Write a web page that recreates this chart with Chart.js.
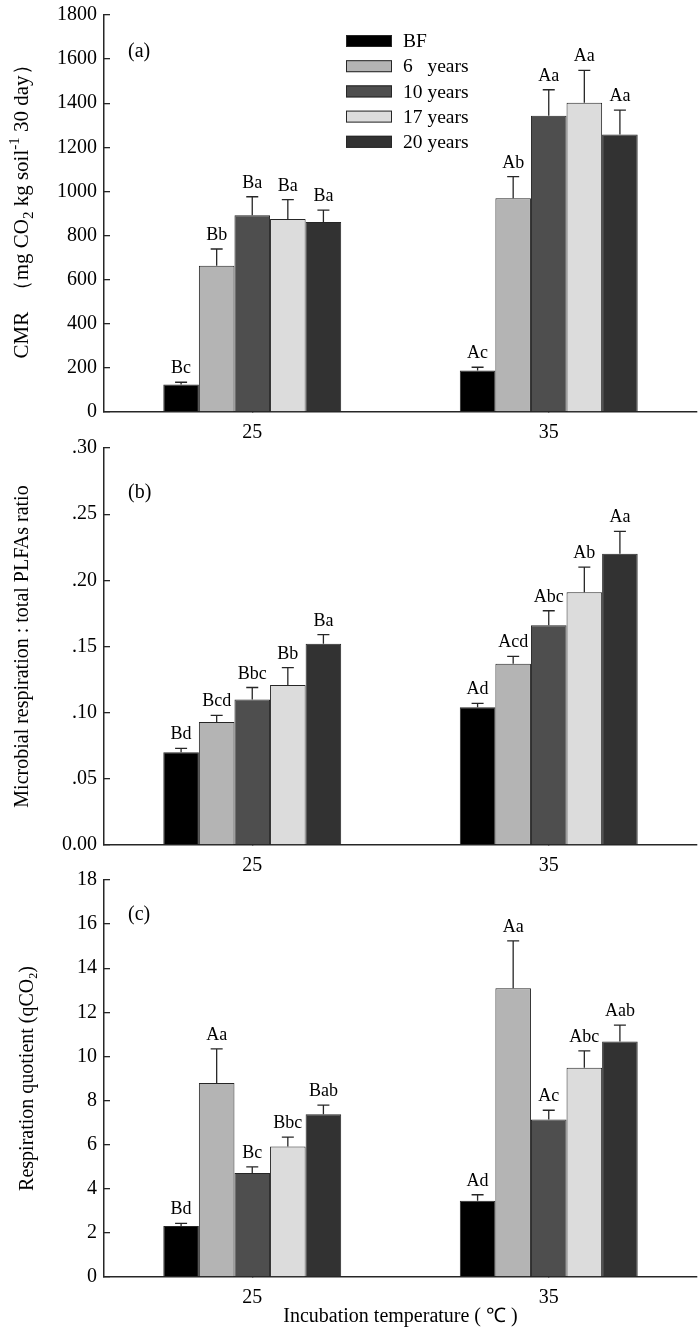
<!doctype HTML>
<html lang="en">
<head>
    <meta charset=utf-8>
    <title>CMR, respiration ratio and qCO2</title>
    <style type="text/css">
        * {
            padding: 0;
            margin: 0;
        }

        body {
            position: relative;
            width: 700px;
            height: 1329px;
            background: #fff;
            overflow: hidden;
        }

        canvas {
            position: absolute;
            left: 0;
        }
    </style>
    <script src="https://cdn.jsdelivr.net/npm/chart.js"></script>
</head>
<body>
    <canvas id="cmrChart" width="700" height="452" style="top:-10px"></canvas>
    <canvas id="ratioChart" width="700" height="452" style="top:423px"></canvas>
    <canvas id="qco2Chart" width="700" height="474" style="top:855px"></canvas>

    <script type="text/javascript">
        const temps = ['25', '35'];
        const seriesNames = ['BF', '6   years', '10 years', '17 years', '20 years'];

        // (a) CMR, one row per series: [25, 35]
        const cmrMean = [[125, 188], [663, 969], [892, 1343], [875, 1402], [861, 1258]];
        const cmrErr = [[10, 15], [76, 98], [84, 118], [88, 147], [54, 111]];
        const cmrLetters = [['Bc', 'Ac'], ['Bb', 'Ab'], ['Ba', 'Aa'], ['Ba', 'Aa'], ['Ba', 'Aa']];
        const cmrTicks = ['0', '200', '400', '600', '800', '1000', '1200', '1400', '1600', '1800'];

        // (b) microbial respiration : total PLFAs
        const ratioMean = [[0.070, 0.104], [0.093, 0.137], [0.110, 0.166], [0.121, 0.191], [0.152, 0.220]];
        const ratioErr = [[0.003, 0.003], [0.005, 0.0055], [0.009, 0.011], [0.013, 0.019], [0.007, 0.017]];
        const ratioLetters = [['Bd', 'Ad'], ['Bcd', 'Acd'], ['Bbc', 'Abc'], ['Bb', 'Ab'], ['Ba', 'Aa']];
        const ratioTicks = ['0.00', '.05', '.10', '.15', '.20', '.25', '.30'];

        // (c) qCO2
        const qMean = [[2.31, 3.46], [8.80, 13.09], [4.71, 7.14], [5.92, 9.49], [7.38, 10.68]];
        const qErr = [[0.12, 0.27], [1.54, 2.15], [0.28, 0.42], [0.42, 0.76], [0.41, 0.74]];
        const qLetters = [['Bd', 'Ad'], ['Aa', 'Aa'], ['Bc', 'Ac'], ['Bbc', 'Abc'], ['Bab', 'Aab']];
        const qTicks = ['0', '2', '4', '6', '8', '10', '12', '14', '16', '18'];

        const fills = ['#000000', '#b4b4b4', '#4e4e4e', '#dcdcdc', '#323232'];
        const ink = '#262626';
        const serif = '"Liberation Serif", "Times New Roman", serif';

        // rotated y title, parts may be sub- or superscript
        function drawTitle(ctx, parts, x, yc) {
            ctx.save();
            ctx.translate(x, yc);
            ctx.rotate(-Math.PI / 2);
            ctx.fillStyle = '#000';
            ctx.textAlign = 'left';
            ctx.textBaseline = 'alphabetic';
            let total = 0;
            parts.forEach(p => {
                ctx.font = (p.size || 20) + 'px ' + serif;
                p.w = ctx.measureText(p.t).width;
                total += p.w;
            });
            let cx = -total / 2;
            parts.forEach(p => {
                ctx.font = (p.size || 20) + 'px ' + serif;
                ctx.fillText(p.t, cx, p.dy || 0);
                cx += p.w;
            });
            ctx.restore();
        }

        const decor = {
            id: 'decor',
            afterDatasetsDraw(chart, args, o) {
                const ctx = chart.ctx;
                const y = chart.scales.y;
                const area = chart.chartArea;
                ctx.save();

                // error bars (upper only) and letters
                ctx.strokeStyle = ink;
                ctx.lineWidth = 1.3;
                ctx.fillStyle = '#000';
                ctx.font = '18px ' + serif;
                ctx.textAlign = 'center';
                ctx.textBaseline = 'alphabetic';
                chart.data.datasets.forEach((ds, i) => {
                    chart.getDatasetMeta(i).data.forEach((bar, j) => {
                        const top = y.getPixelForValue(ds.data[j] + o.err[i][j]);
                        ctx.beginPath();
                        ctx.moveTo(bar.x, bar.y);
                        ctx.lineTo(bar.x, top);
                        ctx.moveTo(bar.x - 6, top);
                        ctx.lineTo(bar.x + 6, top);
                        ctx.stroke();
                        ctx.fillText(o.letters[i][j], bar.x, top - 9);
                    });
                });

                // panel tag
                ctx.font = '20px ' + serif;
                ctx.textAlign = 'left';
                ctx.textBaseline = 'middle';
                ctx.fillText(o.tag, area.left + 24, area.top + o.tagDy);

                drawTitle(ctx, o.title, o.titleX, (area.top + area.bottom) / 2 + (o.titleDy || 0));

                if (o.legend) {
                    ctx.font = '19.5px ' + serif;
                    ctx.lineWidth = 1;
                    seriesNames.forEach((name, i) => {
                        const cy = area.top + 26 + i * 25.2;
                        const bx = area.left + 242;
                        ctx.fillStyle = fills[i];
                        ctx.fillRect(bx, cy - 6, 46, 12);
                        ctx.strokeRect(bx + 0.5, cy - 5.5, 45, 11);
                        ctx.fillStyle = '#000';
                        ctx.fillText(name, bx + 57, cy + 1);
                    });
                }
                ctx.restore();
            }
        };

        function panel(id, cfg) {
            const datasets = seriesNames.map((name, i) => ({
                label: name,
                data: cfg.mean[i],
                backgroundColor: fills[i],
                borderColor: ink,
                borderWidth: 1,
                categoryPercentage: 0.6,
                barPercentage: 1.0
            }));

            return new Chart(document.getElementById(id), {
                type: 'bar',
                data: { labels: temps, datasets },
                plugins: [decor],
                options: {
                    responsive: false,
                    animation: false,
                    events: [],
                    layout: { padding: { top: 20, right: 3, left: 0, bottom: 0 } },
                    plugins: {
                        legend: { display: false },
                        tooltip: { enabled: false },
                        decor: {
                            err: cfg.err,
                            letters: cfg.letters,
                            tag: cfg.tag,
                            tagDy: cfg.tagDy,
                            title: cfg.title,
                            titleX: cfg.titleX,
                            titleDy: cfg.titleDy,
                            legend: cfg.legend
                        }
                    },
                    scales: {
                        x: {
                            grid: { display: true, drawOnChartArea: false, offset: false, tickLength: -5, color: ink, lineWidth: 1.3 },
                            border: { display: true, color: ink, width: 1.5 },
                            ticks: { color: '#000', padding: 14, font: { family: serif, size: 20 } },
                            title: {
                                display: !!cfg.xTitle,
                                text: cfg.xTitle || '',
                                color: '#000',
                                padding: { top: 0, bottom: 0 },
                                font: { family: serif, size: 20 }
                            },
                            afterFit(s) { s.height = cfg.xh; }
                        },
                        y: {
                            min: 0,
                            max: cfg.max,
                            grid: { display: true, drawOnChartArea: false, tickLength: -6, color: ink, lineWidth: 1.3 },
                            border: { display: true, color: ink, width: 1.5 },
                            ticks: {
                                stepSize: cfg.step,
                                color: '#000',
                                padding: 13,
                                font: { family: serif, size: 20 },
                                callback: (v, i) => cfg.ticks[i]
                            },
                            afterFit(s) { s.width = 104; }
                        }
                    }
                }
            });
        }

        panel('cmrChart', {
            mean: cmrMean, err: cmrErr, letters: cmrLetters, ticks: cmrTicks,
            max: 1800, step: 200, xh: 30, tag: '(a)', tagDy: 37, legend: true,
            titleX: 28, titleDy: -7,
            title: [
                { t: 'CMR  \uFF08mg CO', size: 21 },
                { t: '2', size: 15, dy: 5 },
                { t: ' kg soil', size: 21 },
                { t: '-1', size: 15, dy: -9 },
                { t: ' 30 day\uFF09', size: 21 }
            ]
        });

        panel('ratioChart', {
            mean: ratioMean, err: ratioErr, letters: ratioLetters, ticks: ratioTicks,
            max: 0.30, step: 0.05, xh: 30, tag: '(b)', tagDy: 45,
            titleX: 28,
            title: [{ t: 'Microbial respiration : total PLFAs ratio' }]
        });

        panel('qco2Chart', {
            mean: qMean, err: qErr, letters: qLetters, ticks: qTicks,
            max: 18, step: 2, xh: 52, tag: '(c)', tagDy: 35,
            titleX: 33,
            xTitle: 'Incubation temperature ( \u2103 )',
            title: [
                { t: 'Respiration quotient (qCO' },
                { t: '2', size: 12, dy: 4 },
                { t: ')' }
            ]
        });
    </script>
</body>
</html>
